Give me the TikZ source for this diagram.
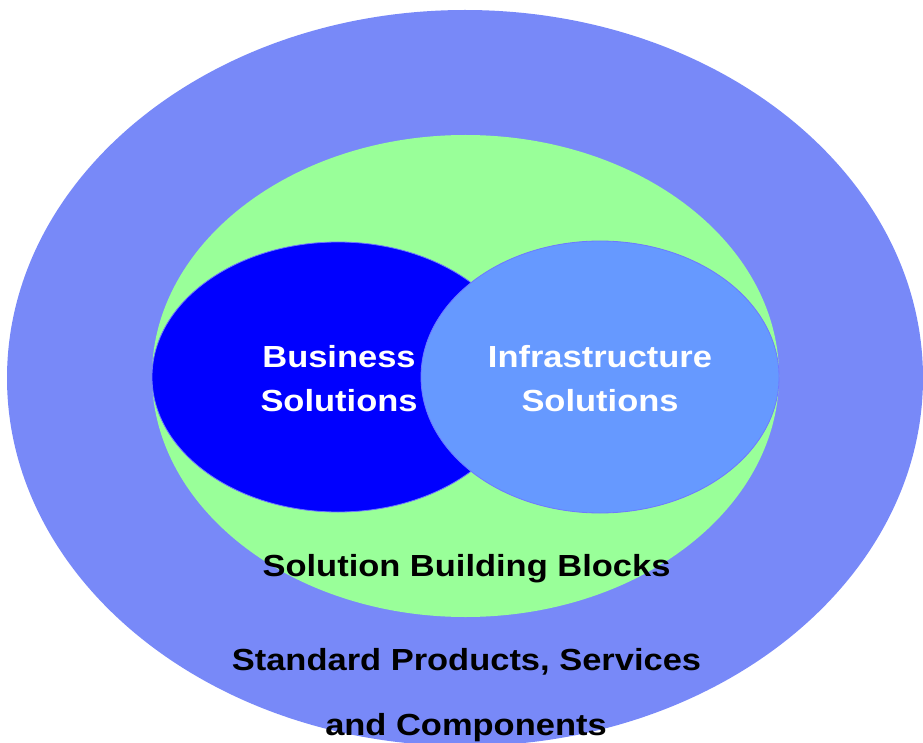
\documentclass[tikz,border=0pt]{standalone}
\usepackage{fontspec}
\setmainfont{Liberation Sans}
\definecolor{outerblue}{RGB}{120,137,248}
\definecolor{sbbgreen}{RGB}{153,255,153}
\definecolor{busblue}{RGB}{0,0,255}
\definecolor{infblue}{RGB}{102,153,255}
\definecolor{edgeblue}{RGB}{110,120,255}
\tikzset{
  lbl/.style={anchor=base, inner sep=0pt, font=\fontsize{30.5pt}{44pt}\selectfont\bfseries, xscale=1.13, transform shape},
  whitelbl/.style={lbl, text=white},
  blacklbl/.style={lbl, text=black},
}
\begin{document}
\begin{tikzpicture}[x=1pt,y=-1pt]
\useasboundingbox (0,0) rectangle (923,743);
\begin{scope}
\clip (0,0) rectangle (923,743);
\fill[outerblue] (465,378) ellipse [x radius=458pt, y radius=368pt];
\fill[sbbgreen] (465.5,376) ellipse [x radius=313.5pt, y radius=241pt];
\filldraw[fill=busblue, draw=edgeblue, line width=0.8pt] (338,377) ellipse [x radius=186pt, y radius=135pt];
\filldraw[fill=infblue, draw=edgeblue, line width=0.8pt] (600,377) ellipse [x radius=179pt, y radius=136pt];
\end{scope}
\node[whitelbl] (bus1) at (339,367) {Business};
\node[whitelbl] (bus2) at (339,411) {Solutions};
\node[whitelbl] (inf1) at (600,367) {Infrastructure};
\node[whitelbl] (inf2) at (600,411) {Solutions};
\node[blacklbl] (sbb) at (466.5,576) {Solution Building Blocks};
\node[blacklbl] (std1) at (466.5,670.5) {Standard Products, Services};
\node[blacklbl] (std2) at (466,735) {and Components};
\end{tikzpicture}
\end{document}
